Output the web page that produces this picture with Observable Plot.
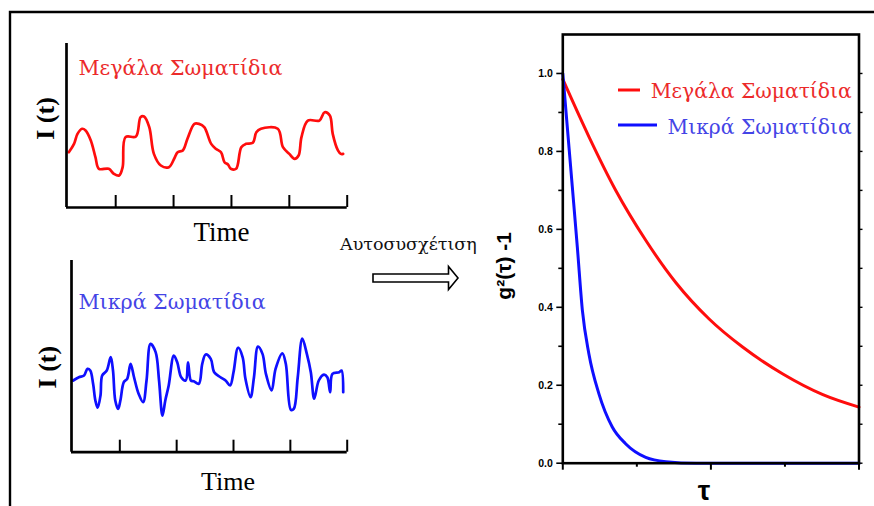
<!DOCTYPE html>
<html><head><meta charset="utf-8">
<script src="https://cdn.jsdelivr.net/npm/d3@7"></script>
<script src="https://cdn.jsdelivr.net/npm/@observablehq/plot@0.6"></script>
<style>
html,body{margin:0;padding:0;background:#fff;}
#root{position:relative;width:874px;height:506px;overflow:hidden;background:#fff;}
</style></head><body><div id="root"></div>
<script>
// ---- data ----
const timeTicks = [1, 2, 3, 4, 5];
const largeT = [0.19,0.28,0.34,0.42,0.48,0.57,0.65,0.71,0.88,0.97,1.06,1.12,1.17,1.35,1.43,1.49,1.58,1.66,1.78,1.92,2.01,2.07,2.16,2.24,2.36,2.44,2.53,2.65,2.73,2.82,2.88,2.94,2.99,3.08,3.17,3.25,3.37,3.43,3.51,3.80,3.89,4.00,4.09,4.16,4.21,4.32,4.52,4.61,4.70,4.75,4.84,4.89,4.93];
const largeI = [3.37,3.88,4.49,4.80,4.70,4.09,3.07,2.36,2.36,2.05,1.95,2.46,4.29,4.33,5.51,5.55,4.90,3.27,2.56,2.46,2.97,3.37,3.48,4.19,5.10,5.10,4.90,3.88,3.58,3.37,2.76,2.62,2.36,2.36,3.68,3.88,3.95,4.59,4.80,4.80,3.68,3.27,2.97,3.17,4.29,5.30,5.30,5.81,5.61,4.49,3.48,3.27,3.27];
const smallT = [0.18,0.28,0.37,0.43,0.48,0.53,0.57,0.61,0.66,0.69,0.77,0.84,0.88,0.92,0.97,1.01,1.07,1.13,1.19,1.25,1.33,1.41,1.47,1.54,1.63,1.69,1.75,1.80,1.86,1.95,2.01,2.08,2.16,2.20,2.25,2.30,2.39,2.45,2.51,2.60,2.66,2.77,2.86,2.94,3.00,3.08,3.16,3.21,3.30,3.36,3.43,3.51,3.57,3.67,3.74,3.86,3.92,4.01,4.06,4.13,4.21,4.29,4.36,4.42,4.50,4.59,4.65,4.70,4.74,4.86,4.90,4.93];
const smallI = [3.74,3.91,4.00,4.35,4.26,3.57,2.70,2.32,2.96,4.00,4.26,4.96,4.26,2.70,2.26,2.70,3.65,3.83,4.61,3.91,3.05,2.61,3.74,5.65,5.22,3.74,1.91,2.70,3.48,5.04,4.69,3.91,3.74,4.69,3.74,3.70,3.57,4.61,5.10,4.87,4.17,3.91,3.74,3.48,4.17,5.45,4.96,3.83,2.87,3.91,5.51,5.13,4.09,3.22,4.35,5.16,4.61,2.21,2.26,3.91,5.92,5.13,4.17,2.79,3.74,4.05,3.91,3.13,4.09,4.17,4.26,3.13];

const tauLarge = [0, 0.088, 0.178, 0.280, 0.382, 0.494, 0.607, 0.743, 0.878, 1.0];
const gLarge   = [0.985, 0.838, 0.701, 0.572, 0.463, 0.370, 0.298, 0.229, 0.176, 0.144];
const tauSmall = [0, 0.015, 0.032, 0.049, 0.066, 0.088, 0.122, 0.167, 0.212, 0.280, 0.348, 0.45, 0.6, 0.8, 1.0];
const gSmall   = [1.0, 0.864, 0.71, 0.555, 0.393, 0.281, 0.178, 0.093, 0.050, 0.015, 0.004, 0, 0, 0, 0];

const gTicks = [0, 0.2, 0.4, 0.6, 0.8, 1.0];
const gTickLabels = ["0.0", "0.2", "0.4", "0.6", "0.8", "1.0"];
const gMinor = [0.1, 0.3, 0.5, 0.7, 0.9];
const tauTicks = [0, 0.5, 1];
const tauMinor = [0.25, 0.75];

const labels = {
  large: "Μεγάλα Σωματίδια",
  small: "Μικρά Σωματίδια",
  intensity: "I (t)",
  time: "Time",
  auto: "Αυτοσυσχέτιση",
  tau: "τ",
  g: "g²(τ) -1"
};

// ---- style ----
const RED = "#ff0d0d", RED_TXT = "#ec2a2a", BLUE = "#0f0fff", BLUE_TXT = "#4444e6";
const serif = "'Liberation Serif','Times New Roman',serif";
const greek = "'DejaVu Serif','Liberation Serif',serif";
const sans = "'Liberation Sans',Arial,sans-serif";
const root = document.getElementById("root");
function place(el, left, top) {
  el.style.position = "absolute"; el.style.left = left + "px"; el.style.top = top + "px";
  root.appendChild(el);
}
const none = () => "";

function panel(T, I, color, textColor, name, cfg) {
  const data = T.map((t, i) => ({t, v: I[i]}));
  return Plot.plot({
    width: 360, height: cfg.height,
    marginLeft: cfg.ml, marginTop: cfg.mt, marginRight: 13.3, marginBottom: cfg.mb,
    x: {domain: [0.15, 5], label: null},
    y: {domain: [0, 10], axis: null, label: null},
    style: {background: "transparent", overflow: "visible"},
    marks: [
      Plot.line(data, {x: "t", y: "v", stroke: color, strokeWidth: 2.7, curve: "catmull-rom"}),
      Plot.axisX({ticks: timeTicks, tickSize: -12, tickFormat: none, strokeWidth: 2, label: null}),
      Plot.ruleY([0], {strokeWidth: 2.7}),
      Plot.ruleX([0.15], {strokeWidth: 2.7}),
      Plot.text([name], {frameAnchor: "top-left", textAnchor: "start", lineAnchor: "middle",
        dx: cfg.ndx, dy: cfg.ndy, fill: textColor, fontSize: cfg.nfs, fontFamily: greek}),
      Plot.text([labels.intensity], {frameAnchor: "left", rotate: -90, textAnchor: "middle", lineAnchor: "middle",
        dx: cfg.idx, dy: cfg.idy, fontSize: 26, fontWeight: "bold", fontFamily: serif}),
      Plot.text([labels.time], {frameAnchor: "bottom", textAnchor: "middle", lineAnchor: "bottom",
        dx: cfg.tdx, dy: cfg.tdy, fontSize: cfg.tfs, fontFamily: serif})
    ]
  });
}

place(panel(largeT, largeI, RED, RED_TXT, labels.large,
  {height: 250, ml: 66, mt: 43, mb: 43, ndx: 12, ndy: 25, nfs: 20.6, idx: -21, idy: -7, tdx: 14.7, tdy: 33, tfs: 27}), 0, 0);
place(panel(smallT, smallI, BLUE, BLUE_TXT, labels.small,
  {height: 256, ml: 71, mt: 10, mb: 54.3, ndx: 7, ndy: 41.7, nfs: 20.6, idx: -24, idy: 10.8, tdx: 18.6, tdy: 37.3, tfs: 26}), 0, 250);

// right: autocorrelation
const redData = tauLarge.map((t, i) => ({t, g: gLarge[i]}));
const blueData = tauSmall.map((t, i) => ({t, g: gSmall[i]}));
const right = Plot.plot({
  width: 384, height: 506,
  marginLeft: 72.3, marginRight: 15.5, marginTop: 34, marginBottom: 43.3,
  x: {domain: [0, 1], label: null},
  y: {domain: [0, 1.1], label: null},
  style: {background: "transparent", overflow: "visible"},
  marks: [
    Plot.line(redData, {x: "t", y: "g", stroke: RED, strokeWidth: 3, curve: "monotone-x"}),
    Plot.line(blueData, {x: "t", y: "g", stroke: BLUE, strokeWidth: 3, curve: "monotone-x"}),
    Plot.frame({strokeWidth: 2.6}),
    Plot.axisY({ticks: gTicks, tickSize: 6, tickFormat: none, strokeWidth: 1.6, label: null}),
    Plot.text(gTicks, {y: d => d, text: (d, i) => gTickLabels[i], frameAnchor: "left", textAnchor: "end",
      lineAnchor: "middle", dx: -10, fontSize: 10.5, fontWeight: "bold", fontFamily: sans, ariaLabel: "g-tick-labels"}),
    Plot.axisY({ticks: gMinor, tickSize: 4, tickFormat: none, strokeWidth: 1.6, label: null}),
    Plot.axisY({anchor: "right", ticks: gTicks.concat(gMinor), tickSize: 3, tickFormat: none, strokeWidth: 1.4, label: null}),
    Plot.axisX({ticks: tauTicks, tickSize: 7, tickFormat: none, strokeWidth: 2, label: null}),
    Plot.axisX({ticks: tauMinor, tickSize: 4, tickFormat: none, strokeWidth: 2, label: null}),
    Plot.text([labels.tau], {frameAnchor: "bottom", textAnchor: "middle", lineAnchor: "middle",
      dx: -7, dy: 28, fontSize: 28, fontWeight: "bold", fontFamily: sans}),
    Plot.text([labels.g], {frameAnchor: "left", rotate: -90, textAnchor: "middle", lineAnchor: "middle",
      dx: -59, dy: 17, fontSize: 21, fontWeight: "bold", fontFamily: sans})
  ]
});
// the reference's tick labels are wide, squat bold digits
right.querySelectorAll('g[aria-label="g-tick-labels"] text').forEach(t => {
  t.setAttribute("textLength", "19");
  t.setAttribute("lengthAdjust", "spacingAndGlyphs");
});
place(right, 490, 0);

// decorations: outer frame, arrow, legend
const NS = "http://www.w3.org/2000/svg";
const deco = document.createElementNS(NS, "svg");
deco.setAttribute("width", 874); deco.setAttribute("height", 506);
deco.style.pointerEvents = "none";
deco.innerHTML = `
  <path d="M10,506 V12 H874" fill="none" stroke="#000" stroke-width="2.4"/>
  <text x="340" y="250" font-family="${greek}" font-size="17.5" fill="#111">${labels.auto}</text>
  <path d="M373,274 H448.5 V266.5 L458,278 L448.5,289.5 V282 H373 Z" fill="#fff" stroke="#000" stroke-width="1.6" stroke-linejoin="miter"/>
  <line x1="618" x2="640" y1="90" y2="90" stroke="${RED}" stroke-width="3"/>
  <text x="851.7" y="98" text-anchor="end" font-family="${greek}" font-size="20.3" fill="${RED_TXT}">${labels.large}</text>
  <line x1="618" x2="657" y1="125" y2="125" stroke="${BLUE}" stroke-width="3"/>
  <text x="851.7" y="134" text-anchor="end" font-family="${greek}" font-size="20.3" fill="${BLUE_TXT}">${labels.small}</text>
`;
place(deco, 0, 0);
</script></body></html>
